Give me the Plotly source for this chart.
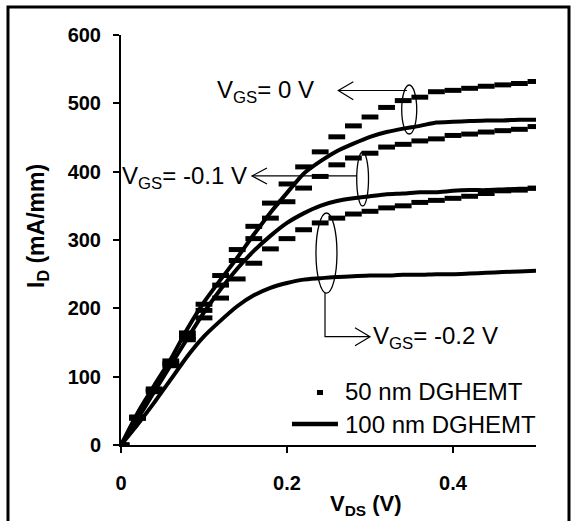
import plotly.graph_objects as go

# ---- data ----
vds = [0.00, 0.02, 0.04, 0.06, 0.08, 0.10, 0.12, 0.14, 0.16, 0.18, 0.20, 0.22, 0.24,
       0.26, 0.28, 0.30, 0.32, 0.34, 0.36, 0.38, 0.40, 0.42, 0.44, 0.46, 0.48, 0.50]

# 50 nm DGHEMT (dash markers)
id50_vgs0 = [0, 41, 82, 123, 164, 206, 248, 286, 320, 354, 382, 407, 429,
             451, 467, 480, 494, 504, 509, 517, 519, 522, 525, 527, 529, 532]
id50_vgs01 = [0, 40, 80, 119, 158, 197, 234, 270, 302, 332, 356, 376, 393,
              410, 420, 427, 436, 440, 445, 448, 453, 455, 458, 460, 462, 466]
id50_vgs02 = [0, 39, 78, 116, 154, 186, 215, 243, 266, 287, 302, 315, 325,
              332, 338, 342, 347, 350, 355, 358, 361, 364, 368, 372, 373, 376]

# 100 nm DGHEMT (solid lines)
id100_vgs0 = [0, 47, 87, 126, 170, 209, 242, 274, 308, 340, 369, 397, 415,
              430, 441, 451, 458, 463, 467, 472, 473, 474, 475, 475, 476, 476]
id100_vgs01 = [0, 38, 78, 117, 156, 194, 228, 258, 284, 306, 325, 339, 350,
               357, 361, 364, 367, 368, 370, 370, 372, 373, 373, 374, 375, 375]
id100_vgs02 = [0, 30, 62, 96, 130, 159, 182, 203, 219, 230, 237, 242, 244,
               246, 247, 248, 248, 249, 249, 250, 250, 251, 252, 253, 254, 255]

x_ticks = [0, 0.2, 0.4]
x_tick_text = ["0", "0.2", "0.4"]
y_ticks = [0, 100, 200, 300, 400, 500, 600]

FONT = "Arial, Liberation Sans, sans-serif"

fig = go.Figure()

for ys in (id100_vgs0, id100_vgs01, id100_vgs02):
    fig.add_trace(go.Scatter(x=vds, y=ys, mode="lines",
                             line=dict(color="black", width=4, shape="spline", smoothing=0.6),
                             showlegend=False, hoverinfo="skip"))

for ys in (id50_vgs0, id50_vgs01, id50_vgs02):
    fig.add_trace(go.Scatter(x=vds, y=ys, mode="markers",
                             marker=dict(symbol="line-ew", size=12, color="black",
                                         line=dict(color="black", width=5)),
                             showlegend=False, hoverinfo="skip"))

shapes = []
# ellipses
for (x0, x1, y0, y1) in [(0.3382, 0.3563, 455.1, 526.8),
                         (0.2840, 0.2982, 349.8, 428.8),
                         (0.2349, 0.2602, 222.4, 339.5)]:
    shapes.append(dict(type="circle", xref="x", yref="y", x0=x0, x1=x1, y0=y0, y1=y1,
                       line=dict(color="black", width=1.3)))
# arrows (thin lines with open heads)
thin = dict(color="black", width=1.2)
# VGS = 0
shapes.append(dict(type="line", xref="x", yref="y", x0=0.2618, y0=518.8, x1=0.3446, y1=518.8, line=thin))
shapes.append(dict(type="path", xref="x", yref="y",
                   path="M 0.2799,531.7 L 0.2618,518.8 L 0.2799,505.3", line=thin))
# VGS = -0.1
shapes.append(dict(type="line", xref="x", yref="y", x0=0.1578, y0=393.7, x1=0.2843, y1=393.7, line=thin))
shapes.append(dict(type="path", xref="x", yref="y",
                   path="M 0.1759,405.4 L 0.1578,393.7 L 0.1759,382.0", line=thin))
# VGS = -0.2
shapes.append(dict(type="path", xref="x", yref="y",
                   path="M 0.2458,222.4 L 0.2458,158.5 L 0.3000,158.5", line=thin))
shapes.append(dict(type="path", xref="x", yref="y",
                   path="M 0.2819,171.7 L 0.3000,158.5 L 0.2819,145.3", line=thin))
# legend symbols
shapes.append(dict(type="rect", xref="x", yref="y", x0=0.2361, x1=0.2434, y0=73.2, y1=80.5,
                   fillcolor="black", line=dict(width=0)))
shapes.append(dict(type="line", xref="x", yref="y", x0=0.206, x1=0.2614, y0=30.7, y1=30.7,
                   line=dict(color="black", width=4.5)))
# outer frame
shapes.append(dict(type="rect", xref="paper", yref="paper", x0=-0.2723, x1=1.0795,
                   y0=-0.207, y1=1.0683, line=dict(color="black", width=3)))

ann_font = dict(family=FONT, size=24, color="black")
annotations = [
    dict(x=0.2349, y=518, xref="x", yref="y", text="V<sub>GS</sub>= 0 V",
         showarrow=False, xanchor="right", yanchor="middle", font=ann_font),
    dict(x=0.154, y=392, xref="x", yref="y", text="V<sub>GS</sub>= -0.1 V",
         showarrow=False, xanchor="right", yanchor="middle", font=ann_font),
    dict(x=0.3012, y=158, xref="x", yref="y", text="V<sub>GS</sub>= -0.2 V",
         showarrow=False, xanchor="left", yanchor="middle", font=ann_font),
    dict(x=0.2675, y=77.6, xref="x", yref="y", text="50 nm DGHEMT",
         showarrow=False, xanchor="left", yanchor="middle", font=ann_font),
    dict(x=0.2675, y=30.7, xref="x", yref="y", text="100 nm DGHEMT",
         showarrow=False, xanchor="left", yanchor="middle", font=ann_font),
    # axis titles
    dict(x=(366 - 121) / 415, y=(445 - 505) / 410, xref="paper", yref="paper",
         text="<b>V<sub>DS</sub> (V)</b>", showarrow=False, xanchor="center", yanchor="middle",
         font=dict(family=FONT, size=22, color="black")),
    dict(x=(37 - 121) / 415, y=(445 - 226) / 410, xref="paper", yref="paper",
         text="<b>I<sub>D</sub> (mA/mm)</b>", showarrow=False, textangle=-90,
         xanchor="center", yanchor="middle",
         font=dict(family=FONT, size=23, color="black")),
]

fig.update_layout(
    width=574, height=521,
    margin=dict(l=121, r=38, t=35, b=76),
    paper_bgcolor="white", plot_bgcolor="white",
    shapes=shapes, annotations=annotations,
    showlegend=False,
    font=dict(family=FONT, color="black"),
)
fig.update_xaxes(range=[0, 0.5], tickvals=x_ticks, ticktext=x_tick_text,
                 showline=True, linecolor="black", linewidth=2,
                 ticks="outside", ticklen=6, tickwidth=1.5, tickcolor="black",
                 showgrid=False, zeroline=False, ticklabelstandoff=13,
                 tickfont=dict(family=FONT, size=20, color="black", weight="bold"))
fig.update_yaxes(range=[0, 600], tickvals=y_ticks,
                 showline=True, linecolor="black", linewidth=2,
                 ticks="outside", ticklen=6, tickwidth=1.5, tickcolor="black",
                 showgrid=False, zeroline=False, ticklabelstandoff=8,
                 tickfont=dict(family=FONT, size=20, color="black", weight="bold"))

fig.write_html("out.html")
